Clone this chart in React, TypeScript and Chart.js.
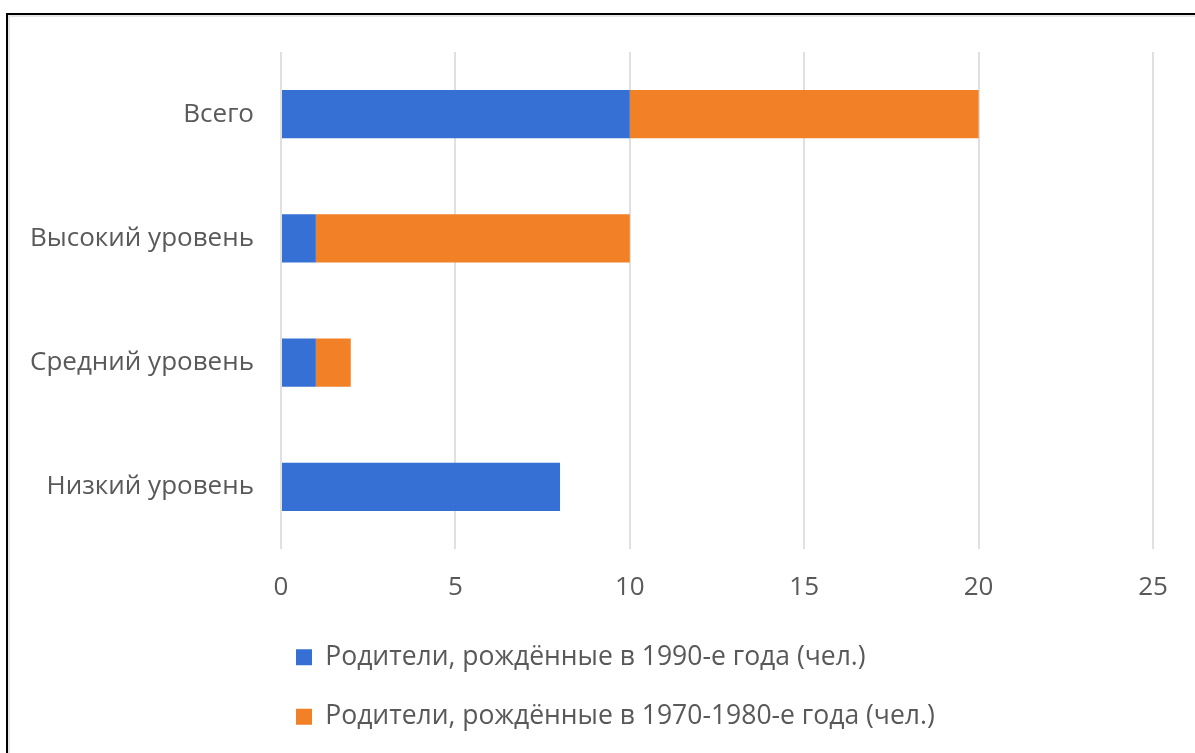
import React, { useEffect, useRef } from "react";
import { Chart, registerables } from "chart.js";

Chart.register(...registerables);

const categories = ["Всего", "Высокий уровень", "Средний уровень", "Низкий уровень"];
const series1Label = "Родители, рождённые в 1990-е года (чел.)";
const series1Values = [10, 1, 1, 8];
const series2Label = "Родители, рождённые в 1970-1980-е года (чел.)";
const series2Values = [10, 9, 1, 0];
const xMin = 0;
const xMax = 25;
const xStep = 5;

const FONT = "'Open Sans'";
const TEXT = "#595959";
const LEGEND_PAD = 33;

const legendShift = {
  id: "legendShift",
  afterLayout(chart: any) {
    const lg = chart.legend;
    if (lg) {
      lg.left = 296 - LEGEND_PAD;
    }
  },
};

export default function App() {
  const ref = useRef<HTMLCanvasElement | null>(null);

  useEffect(() => {
    if (!ref.current) return;
    const chart = new Chart(ref.current, {
      type: "bar",
      data: {
        labels: categories,
        datasets: [
          {
            label: series1Label,
            data: series1Values,
            backgroundColor: "#3670D5",
            borderWidth: 0,
            barPercentage: 0.39,
            categoryPercentage: 1,
          },
          {
            label: series2Label,
            data: series2Values,
            backgroundColor: "#F18026",
            borderWidth: 0,
            barPercentage: 0.39,
            categoryPercentage: 1,
          },
        ],
      },
      plugins: [legendShift],
      options: {
        indexAxis: "y",
        animation: false,
        responsive: false,
        maintainAspectRatio: false,
        layout: { padding: { left: 0, top: 52, right: 42, bottom: 13 } },
        scales: {
          x: {
            stacked: true,
            min: xMin,
            max: xMax,
            ticks: {
              stepSize: xStep,
              color: TEXT,
              font: { family: FONT, size: 26 },
              padding: 23,
            },
            grid: { color: "#e0e0e0", lineWidth: 2, drawTicks: false },
            border: { display: false },
            afterFit: (s: any) => {
              s.height = 62;
            },
          },
          y: {
            stacked: true,
            ticks: {
              color: TEXT,
              font: { family: FONT, size: 26 },
              padding: 27,
            },
            grid: { display: false, drawTicks: false },
            border: { display: false },
            afterFit: (s: any) => {
              s.width = 281;
            },
          },
        },
        plugins: {
          legend: {
            position: "bottom",
            align: "start",
            labels: {
              boxWidth: 16,
              boxHeight: 16,
              padding: LEGEND_PAD,
              color: TEXT,
              font: { family: FONT, size: 26.5 },
            },
          },
          tooltip: { enabled: false },
        },
      },
    });
    return () => chart.destroy();
  }, []);

  return (
    <div
      style={{
        position: "fixed",
        left: 0,
        top: 0,
        width: 1195,
        height: 753,
        overflow: "hidden",
        background: "#fff",
      }}
    >
      <div
        style={{
          position: "absolute",
          left: 6,
          top: 13,
          width: 1300,
          height: 900,
          border: "2px solid #000",
          boxShadow: "inset 2px 2px 0 #e6e6e6",
        }}
      />
      <canvas
        ref={ref}
        width={1195}
        height={753}
        style={{ position: "absolute", left: 0, top: 0 }}
      />
    </div>
  );
}
